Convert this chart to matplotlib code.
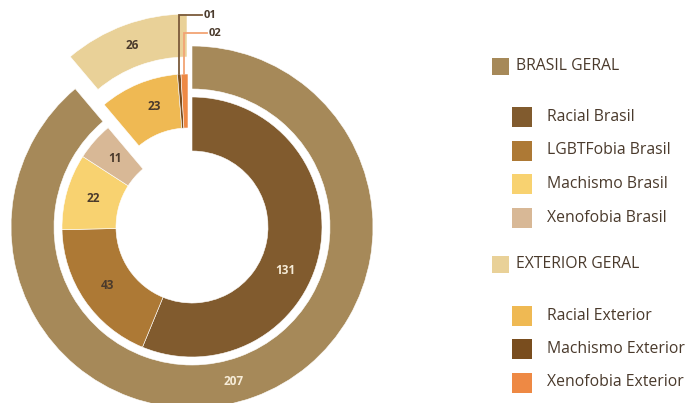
import matplotlib.pyplot as plt
from matplotlib.patches import Rectangle
import numpy as np

plt.rcParams['font.family'] = ['Open Sans', 'DejaVu Sans']

# anel externo: totais por origem
grupos = ["BRASIL GERAL", "EXTERIOR GERAL"]
totais = [207, 26]
cores_grupos = ["#A68959", "#E9D198"]

# anel interno: casos por tipo
categorias = ["Racial Brasil", "LGBTFobia Brasil", "Machismo Brasil", "Xenofobia Brasil",
              "Racial Exterior", "Machismo Exterior", "Xenofobia Exterior"]
casos = [131, 43, 22, 11, 23, 1, 2]
cores_cat = ["#815B2E", "#AD7935", "#F8D270", "#D8B896",
             "#EFB953", "#794D1E", "#EE8944"]
grupo_cat = [0, 0, 0, 0, 1, 1, 1]

W, H = 687, 403
centro = (192, 176)
TXT = "#4A3A2C"

fig = plt.figure(figsize=(W / 100, H / 100), dpi=100)
ax = fig.add_axes([0, 0, 1, 1])

borda = dict(edgecolor="white", linewidth=0.4)
ext, _ = ax.pie(totais, colors=cores_grupos, radius=181, center=centro,
                startangle=90, counterclock=False,
                wedgeprops=dict(width=43, **borda))
inn, _ = ax.pie(casos, colors=cores_cat, radius=130, center=centro,
                startangle=90, counterclock=False,
                wedgeprops=dict(width=54, **borda))

# destaca a parte do exterior
ext[1].set_center((centro[0] - 5, centro[1] + 32))
for i, w in enumerate(inn):
    if grupo_cat[i] == 1:
        w.set_center((centro[0] - 4, centro[1] + 23))


def meio(w, r=None, dang=0):
    th = np.deg2rad((w.theta1 + w.theta2) / 2 + dang)
    if r is None:
        r = w.r - w.width / 2
    return w.center[0] + r * np.cos(th), w.center[1] + r * np.sin(th)


claro = "#F6ECD8"
ajuste_ext = [-5, 0]
for w, v, a in zip(ext, totais, ajuste_ext):
    x, y = meio(w, dang=a)
    ax.text(x, y, str(v), ha="center", va="center", fontsize=8.5,
            fontweight="bold", color=claro if v > 100 else TXT)

ajuste_inn = [-14, 0, 0, 0, -3, 0, 0]
for w, v, a in zip(inn, casos, ajuste_inn):
    if v < 5:
        continue
    x, y = meio(w, dang=a)
    ax.text(x, y, str(v), ha="center", va="center", fontsize=8.5,
            fontweight="bold", color=claro if v > 100 else TXT)

# fatias pequenas: chamada com linha
chamadas = [(5, 388, 202, "#7B5A3A"), (6, 370, 207, "#F2A474")]
for idx, ytop, xfim, cor in chamadas:
    x0, y0 = meio(inn[idx], r=inn[idx].r)
    ax.plot([x0, x0, xfim], [y0, ytop, ytop], color=cor, lw=1.3,
            solid_joinstyle="miter", zorder=5)
    ax.text(xfim + 2, ytop, "%02d" % casos[idx], ha="left", va="center",
            fontsize=8, fontweight="bold", color=TXT)

# legenda
itens = [(grupos[0], cores_grupos[0], 0)]
itens += [(c, k, 1) for c, k, g in zip(categorias, cores_cat, grupo_cat) if g == 0]
itens += [(grupos[1], cores_grupos[1], 0)]
itens += [(c, k, 1) for c, k, g in zip(categorias, cores_cat, grupo_cat) if g == 1]

y = 66
anterior = None
for nome, cor, nivel in itens:
    if anterior is not None:
        if nivel != anterior:
            y += 51 if nivel == 1 else 47
        else:
            y += 33.5
    anterior = nivel
    if nivel == 0:
        lado, xq, xt = 17, 492, 516
    else:
        lado, xq, xt = 20, 512, 547
    ax.add_patch(Rectangle((xq, H - y - lado / 2), lado, lado, color=cor, lw=0))
    ax.text(xt, H - y, nome, ha="left", va="center", fontsize=11.3, color=TXT)

ax.set_xlim(0, W)
ax.set_ylim(0, H)
ax.axis("off")

fig.savefig("out.png", dpi=100)
